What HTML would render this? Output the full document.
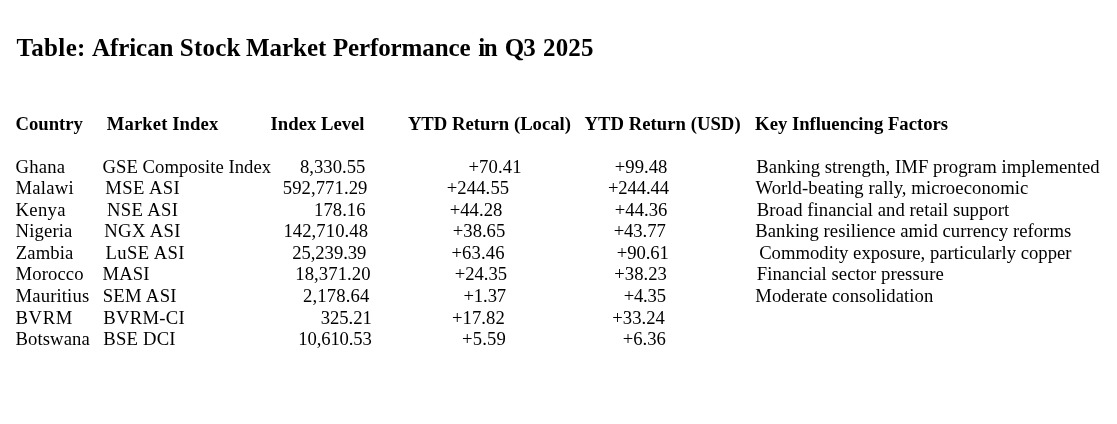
<!DOCTYPE html>
<html lang="en"><head><meta charset="utf-8"><title>African Stock Market Performance</title>
<style>
html,body{margin:0;padding:0;background:#fff}
body{width:1117px;height:424px;position:relative;overflow:hidden;font-family:"Liberation Serif","Times New Roman",Times,serif;color:#000}
.t{position:absolute;white-space:pre;line-height:22px;font-size:18.67px;margin:0}
.h{font-weight:bold}
h2{margin:0;font-size:25.0px;font-weight:bold;line-height:30px}
.w{position:absolute;white-space:pre}
</style></head><body>
<h2>
<span class="w" style="left:16.46px;top:33px;letter-spacing:0.366px">Table:</span> 
<span class="w" style="left:91.88px;top:33px;letter-spacing:-0.046px">African</span> 
<span class="w" style="left:179.77px;top:33px;letter-spacing:0.226px">Stock</span> 
<span class="w" style="left:245.95px;top:33px;letter-spacing:-0.036px">Market</span> 
<span class="w" style="left:332.88px;top:33px;letter-spacing:-0.119px">Performance</span> 
<span class="w" style="left:478.37px;top:33px;letter-spacing:-1.561px">in</span> 
<span class="w" style="left:504.75px;top:33px;letter-spacing:-1.016px">Q3</span> 
<span class="w" style="left:542.97px;top:33px;letter-spacing:0.193px">2025</span> 
</h2>
<div class="t h" style="left:15.59px;top:113px;letter-spacing:-0.026px">Country</div>
<div class="t h" style="left:106.74px;top:113px;letter-spacing:0.108px">Market Index</div>
<div class="t h" style="left:270.58px;top:113px;letter-spacing:0.014px">Index Level</div>
<div class="t h" style="left:407.88px;top:113px;letter-spacing:0.027px">YTD Return (Local)</div>
<div class="t h" style="left:584.46px;top:113px;letter-spacing:0.046px">YTD Return (USD)</div>
<div class="t h" style="left:755.12px;top:113px;letter-spacing:0.008px">Key Influencing Factors</div>
<div class="t" style="left:15.57px;top:156px;letter-spacing:0.189px">Ghana</div>
<div class="t" style="left:102.57px;top:156px;letter-spacing:0.032px">GSE Composite Index</div>
<div class="t" style="left:299.90px;top:156px;letter-spacing:0.025px">8,330.55</div>
<div class="t" style="left:468.40px;top:156px;letter-spacing:0.149px">+70.41</div>
<div class="t" style="left:614.76px;top:156px;letter-spacing:0.015px">+99.48</div>
<div class="t" style="left:756.30px;top:156px;letter-spacing:0.074px">Banking strength, IMF program implemented</div>
<div class="t" style="left:15.54px;top:177px;letter-spacing:0.216px">Malawi</div>
<div class="t" style="left:105.24px;top:177px;letter-spacing:0.412px">MSE ASI</div>
<div class="t" style="left:282.75px;top:177px;letter-spacing:0.079px">592,771.29</div>
<div class="t" style="left:446.63px;top:177px;letter-spacing:0.118px">+244.55</div>
<div class="t" style="left:607.99px;top:177px;letter-spacing:-0.139px">+244.44</div>
<div class="t" style="left:755.44px;top:177px;letter-spacing:0.079px">World-beating rally, microeconomic</div>
<div class="t" style="left:15.54px;top:199px;letter-spacing:0.303px">Kenya</div>
<div class="t" style="left:106.90px;top:199px;letter-spacing:0.349px">NSE ASI</div>
<div class="t" style="left:314.06px;top:199px;letter-spacing:0.034px">178.16</div>
<div class="t" style="left:449.63px;top:199px;letter-spacing:0.049px">+44.28</div>
<div class="t" style="left:614.76px;top:199px;letter-spacing:0.038px">+44.36</div>
<div class="t" style="left:756.79px;top:199px;letter-spacing:0.050px">Broad financial and retail support</div>
<div class="t" style="left:15.54px;top:220px;letter-spacing:0.148px">Nigeria</div>
<div class="t" style="left:104.24px;top:220px;letter-spacing:0.358px">NGX ASI</div>
<div class="t" style="left:283.46px;top:220px;letter-spacing:0.062px">142,710.48</div>
<div class="t" style="left:452.83px;top:220px;letter-spacing:-0.020px">+38.65</div>
<div class="t" style="left:613.63px;top:220px;letter-spacing:-0.066px">+43.77</div>
<div class="t" style="left:755.30px;top:220px;letter-spacing:0.051px">Banking resilience amid currency reforms</div>
<div class="t" style="left:15.65px;top:242px;letter-spacing:0.155px">Zambia</div>
<div class="t" style="left:105.54px;top:242px;letter-spacing:0.404px">LuSE ASI</div>
<div class="t" style="left:292.16px;top:242px;letter-spacing:-0.050px">25,239.39</div>
<div class="t" style="left:451.40px;top:242px;letter-spacing:0.146px">+63.46</div>
<div class="t" style="left:616.76px;top:242px;letter-spacing:-0.100px">+90.61</div>
<div class="t" style="left:759.17px;top:242px;letter-spacing:0.013px">Commodity exposure, particularly copper</div>
<div class="t" style="left:15.54px;top:263px;letter-spacing:0.101px">Morocco</div>
<div class="t" style="left:102.54px;top:263px;letter-spacing:0.084px">MASI</div>
<div class="t" style="left:295.23px;top:263px;letter-spacing:0.097px">18,371.20</div>
<div class="t" style="left:454.63px;top:263px;letter-spacing:-0.007px">+24.35</div>
<div class="t" style="left:614.24px;top:263px;letter-spacing:0.036px">+38.23</div>
<div class="t" style="left:756.79px;top:263px;letter-spacing:0.060px">Financial sector pressure</div>
<div class="t" style="left:15.54px;top:285px;letter-spacing:0.136px">Mauritius</div>
<div class="t" style="left:102.64px;top:285px;letter-spacing:0.313px">SEM ASI</div>
<div class="t" style="left:303.00px;top:285px;letter-spacing:0.146px">2,178.64</div>
<div class="t" style="left:463.40px;top:285px;letter-spacing:-0.091px">+1.37</div>
<div class="t" style="left:623.63px;top:285px;letter-spacing:-0.190px">+4.35</div>
<div class="t" style="left:755.30px;top:285px;letter-spacing:0.061px">Moderate consolidation</div>
<div class="t" style="left:15.54px;top:307px;letter-spacing:0.619px">BVRM</div>
<div class="t" style="left:103.24px;top:307px;letter-spacing:0.274px">BVRM-CI</div>
<div class="t" style="left:320.84px;top:307px;letter-spacing:-0.076px">325.21</div>
<div class="t" style="left:452.06px;top:307px;letter-spacing:0.032px">+17.82</div>
<div class="t" style="left:612.24px;top:307px;letter-spacing:0.043px">+33.24</div>
<div class="t" style="left:15.54px;top:328px;letter-spacing:0.087px">Botswana</div>
<div class="t" style="left:103.24px;top:328px;letter-spacing:0.222px">BSE DCI</div>
<div class="t" style="left:298.23px;top:328px;letter-spacing:-0.117px">10,610.53</div>
<div class="t" style="left:462.06px;top:328px;letter-spacing:0.151px">+5.59</div>
<div class="t" style="left:622.63px;top:328px;letter-spacing:0.034px">+6.36</div>
</body></html>
